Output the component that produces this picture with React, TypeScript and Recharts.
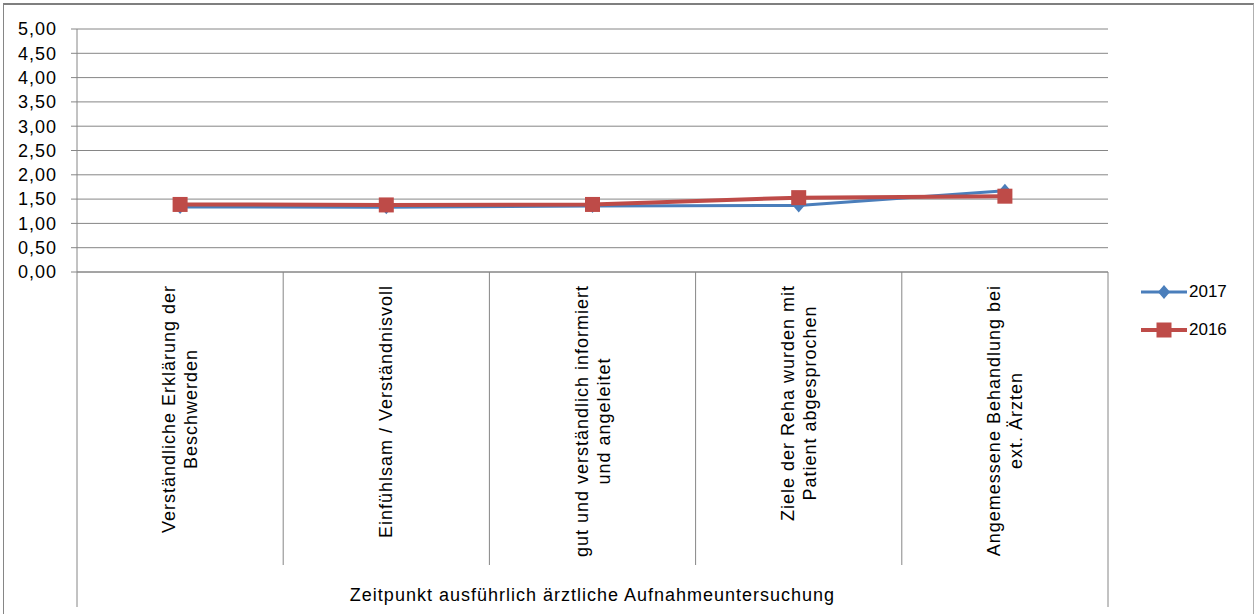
import React from 'react';
import { LineChart, Line, XAxis, YAxis, CartesianGrid, Label } from 'recharts';

const categories = ['K1', 'K2', 'K3', 'K4', 'K5'];
const categoryLines: string[][] = [
  ['Verständliche Erklärung der', 'Beschwerden'],
  ['Einfühlsam / Verständnisvoll'],
  ['gut und verständlich informiert', 'und angeleitet'],
  ['Ziele der Reha wurden mit', 'Patient abgesprochen'],
  ['Angemessene Behandlung bei', 'ext. Ärzten'],
];
const series2017 = [1.34, 1.33, 1.36, 1.37, 1.67];
const series2016 = [1.39, 1.38, 1.39, 1.53, 1.56];
const yTicks = [0, 0.5, 1, 1.5, 2, 2.5, 3, 3.5, 4, 4.5, 5];
const groupLabel = 'Zeitpunkt ausführlich ärztliche Aufnahmeuntersuchung';
const legendNames = ['2017', '2016'];

const data = categories.map((c, i) => ({ name: c, y2017: series2017[i], y2016: series2016[i] }));

const FONT = "'Liberation Sans', Arial, sans-serif";
const GRID = '#868686';
const BLUE = '#4A7EBB';
const RED = '#BE4B48';

let ctx: CanvasRenderingContext2D | null = null;
function measure(text: string, size: number, spacing: number) {
  if (!ctx) ctx = document.createElement('canvas').getContext('2d');
  if (!ctx) return text.length * size * 0.5;
  ctx.font = `${size}px 'Liberation Sans'`;
  return ctx.measureText(text).width + spacing * text.length;
}

const CatTick = (props: any) => {
  const { x, y, payload, index, visibleTicksCount } = props;
  const half = payload && typeof payload.offset === 'number' && payload.offset > 0 ? payload.offset : 103.1;
  const idx = typeof index === 'number' ? index : payload.index;
  const lines = categoryLines[idx] || [];
  const maxLen = Math.max(...lines.map((l) => measure(l, 18, 1)));
  const top = y + 13;
  const last = idx === (visibleTicksCount ?? categories.length) - 1;
  return (
    <g>
      <line x1={x - half} y1={y} x2={x - half} y2={idx === 0 ? y + 335 : y + 293} stroke={GRID} strokeWidth={1} />
      {last && <line x1={x + half} y1={y} x2={x + half} y2={y + 335} stroke={GRID} strokeWidth={1} />}
      <g transform={`translate(${x},${top}) rotate(-90)`}>
        {lines.map((l, i) => (
          <text
            key={i}
            x={-maxLen / 2}
            y={(i - (lines.length - 1) / 2) * 22 + 6}
            textAnchor="middle"
            fontSize={18}
            letterSpacing={1}
            fontFamily={FONT}
            fill="#000"
          >
            {l}
          </text>
        ))}
      </g>
    </g>
  );
};

const Diamond = (p: any) => {
  const { cx, cy } = p;
  if (cx == null || cy == null) return null;
  return <polygon points={`${cx},${cy - 7} ${cx + 6},${cy} ${cx},${cy + 7} ${cx - 6},${cy}`} fill={BLUE} />;
};
const Square = (p: any) => {
  const { cx, cy } = p;
  if (cx == null || cy == null) return null;
  return <rect x={cx - 7.5} y={cy - 7.5} width={15} height={15} fill={RED} />;
};

const GroupLabel = (p: any) => {
  const vb = p.viewBox || { x: 77, y: 272, width: 1031, height: 342 };
  return (
    <text
      x={vb.x + vb.width / 2}
      y={vb.y + vb.height - 13}
      textAnchor="middle"
      fontSize={18}
      letterSpacing={1}
      fontFamily={FONT}
      fill="#000"
    >
      {groupLabel}
    </text>
  );
};

export default function App() {
  return (
    <div style={{ position: 'absolute', left: 0, top: 0, width: 1255, height: 614, overflow: 'hidden', background: '#fff' }}>
      <div
        style={{
          position: 'absolute',
          left: 3,
          top: 3,
          width: 1251,
          height: 640,
          borderTop: `2px solid #7f7f7f`,
          borderLeft: `1.5px solid ${GRID}`,
          borderRight: `1px solid #b0b0b0`,
          boxSizing: 'border-box',
        }}
      />
      <div style={{ position: 'absolute', left: 0, top: 0 }}>
        <LineChart width={1255} height={614} data={data} margin={{ top: 29, right: 147, left: 0, bottom: 0 }}>
          <CartesianGrid vertical={false} stroke={GRID} strokeWidth={1} />
          <XAxis
            dataKey="name"
            scale="band"
            height={342}
            interval={0}
            tickSize={0}
            tickMargin={0}
            tickLine={false}
            axisLine={{ stroke: GRID }}
            tick={<CatTick />}
          >
            <Label content={<GroupLabel />} />
          </XAxis>
          <YAxis
            domain={[0, 5]}
            ticks={yTicks}
            interval={0}
            width={77}
            tickSize={6}
            tickMargin={14}
            axisLine={{ stroke: GRID }}
            tickLine={{ stroke: GRID }}
            tickFormatter={(v: number) => v.toFixed(2).replace('.', ',')}
            tick={{ fill: '#000', fontSize: 18, fontFamily: FONT, letterSpacing: 1 }}
          />
          <Line
            type="linear"
            dataKey="y2017"
            stroke={BLUE}
            strokeWidth={3}
            dot={<Diamond />}
            activeDot={false}
            isAnimationActive={false}
          />
          <Line
            type="linear"
            dataKey="y2016"
            stroke={RED}
            strokeWidth={4}
            dot={<Square />}
            activeDot={false}
            isAnimationActive={false}
          />
        </LineChart>
      </div>
      <div style={{ position: 'absolute', left: 1141, top: 273, fontFamily: FONT, fontSize: 17, color: '#000' }}>
        {legendNames.map((n, i) => (
          <div key={n} style={{ display: 'flex', alignItems: 'center', height: 38 }}>
            <svg width={47} height={20} style={{ display: 'block' }}>
              <line x1={0} y1={10} x2={46} y2={10} stroke={i === 0 ? BLUE : RED} strokeWidth={i === 0 ? 3 : 4} />
              {i === 0 ? (
                <polygon points="23,3 29,10 23,17 17,10" fill={BLUE} />
              ) : (
                <rect x={15.5} y={2.5} width={15} height={15} fill={RED} />
              )}
            </svg>
            <span style={{ marginLeft: 1 }}>{n}</span>
          </div>
        ))}
      </div>
    </div>
  );
}
